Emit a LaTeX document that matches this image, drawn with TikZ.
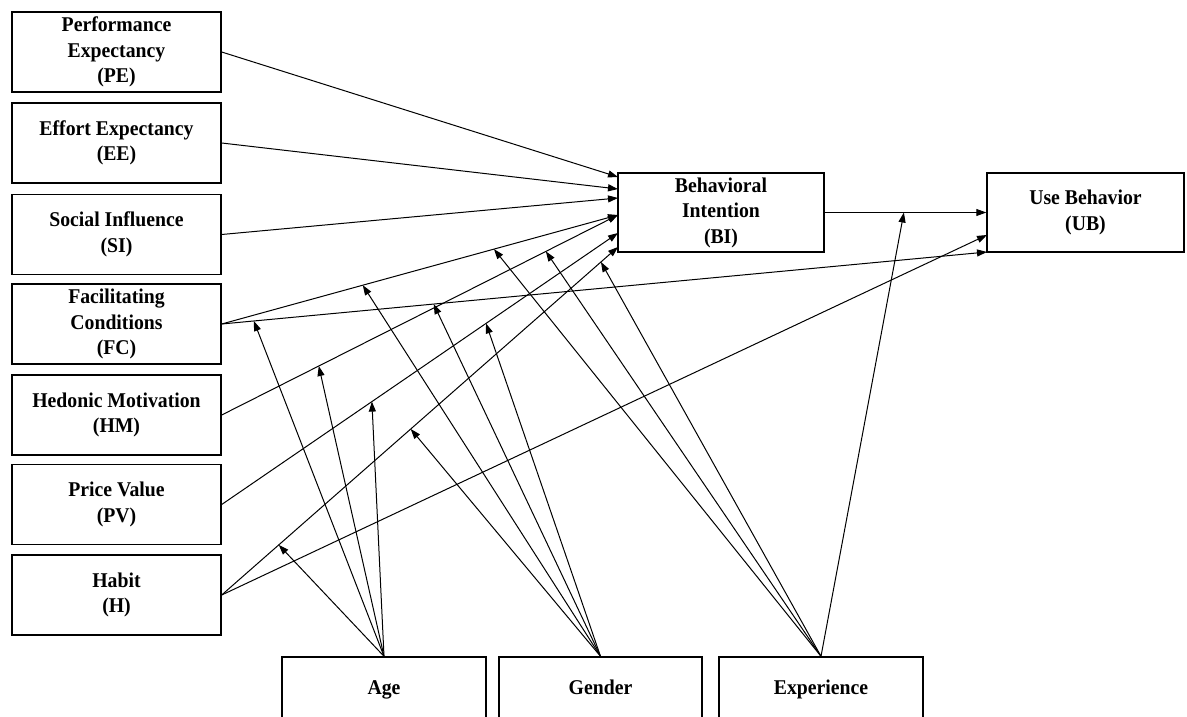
\documentclass[tikz,border=0pt]{standalone}
\usepackage{fontspec}
\setmainfont{Liberation Serif}[FakeStretch=0.94]
\usetikzlibrary{arrows.meta}
\begin{document}
\begin{tikzpicture}[x=1pt,y=-1pt,
  box/.style={draw, line width=1.4pt, fill=white, minimum width=209pt, minimum height=80pt,
    align=center, inner sep=0pt, font=\fontsize{21}{25.5}\selectfont\bfseries},
  modbox/.style={box, minimum height=66pt, text height=14pt, text depth=4.5pt},
  conn/.style={line width=1pt, -{Triangle[length=10pt,width=7pt]}}]
\useasboundingbox (0,0) rectangle (1187,717);
\clip (0,0) rectangle (1187,717);
\fill[white] (0,0) rectangle (1187,717);

% constructs
\node[box] (pe) at (116.5,52) {Performance\\Expectancy\\(PE)};
\node[box] (ee) at (116.5,143) {Effort Expectancy\\(EE)};
\node[box] (si) at (116.5,234.5) {Social Influence\\(SI)};
\node[box] (fc) at (116.5,324) {Facilitating\\Conditions\\(FC)};
\node[box] (hm) at (116.5,415) {Hedonic Motivation\\(HM)};
\node[box] (pv) at (116.5,504.5) {Price Value\\(PV)};
\node[box] (hb) at (116.5,595) {Habit\\(H)};
\node[box, minimum width=206pt, minimum height=79pt] (bi) at (721,212.5) {Behavioral\\Intention\\(BI)};
\node[box, minimum width=197pt, minimum height=79pt] (ub) at (1085.5,212.5) {Use Behavior\\(UB)};
\node[modbox, minimum width=204pt] (age) at (384,690) {Age};
\node[modbox, minimum width=203pt] (gen) at (600.5,690) {Gender};
\node[modbox, minimum width=204pt] (exp) at (821,690) {Experience};

% entry points on BI and UB
\coordinate (biA) at (618,177);
\coordinate (biB) at (618,189);
\coordinate (biC) at (618,198);
\coordinate (biD) at (618,215);
\coordinate (biE) at (618,233);
\coordinate (biF) at (618,247);
\coordinate (ubB) at (987,235);
\coordinate (ubC) at (987,252);

% main paths
\draw[conn] (pe.east) -- (biA);
\draw[conn] (ee.east) -- (biB);
\draw[conn] (si.east) -- (biC);
\draw[conn] (fc.east) -- coordinate[pos=0.356] (fcbi1) coordinate[pos=0.687] (fcbi2) (biD);
\draw[conn] (fc.east) -- coordinate[pos=0.042] (fcub1) coordinate[pos=0.277] (fcub2) (ubC);
\draw[conn] (hm.east) -- coordinate[pos=0.245] (hmbi1) coordinate[pos=0.818] (hmbi2) (biD);
\draw[conn] (pv.east) -- coordinate[pos=0.379] (pvbi1) coordinate[pos=0.667] (pvbi2) (biE);
\draw[conn] (hb.east) -- coordinate[pos=0.144] (hbbi1) coordinate[pos=0.477] (hbbi2) coordinate[pos=0.957] (hbbi3) (biF);
\draw[conn] (hb.east) -- (ubB);
\draw[conn] (bi.east) -- coordinate[pos=0.49] (biub) (ub.west);

% moderators
\draw[conn] (age.north) -- (fcub1);
\draw[conn] (age.north) -- (hmbi1);
\draw[conn] (age.north) -- (pvbi1);
\draw[conn] (age.north) -- (hbbi1);
\draw[conn] (gen.north) -- (fcbi1);
\draw[conn] (gen.north) -- (fcub2);
\draw[conn] (gen.north) -- (pvbi2);
\draw[conn] (gen.north) -- (hbbi2);
\draw[conn] (exp.north) -- (fcbi2);
\draw[conn] (exp.north) -- (hmbi2);
\draw[conn] (exp.north) -- (hbbi3);
\draw[conn] (exp.north) -- (biub);
\end{tikzpicture}
\end{document}
